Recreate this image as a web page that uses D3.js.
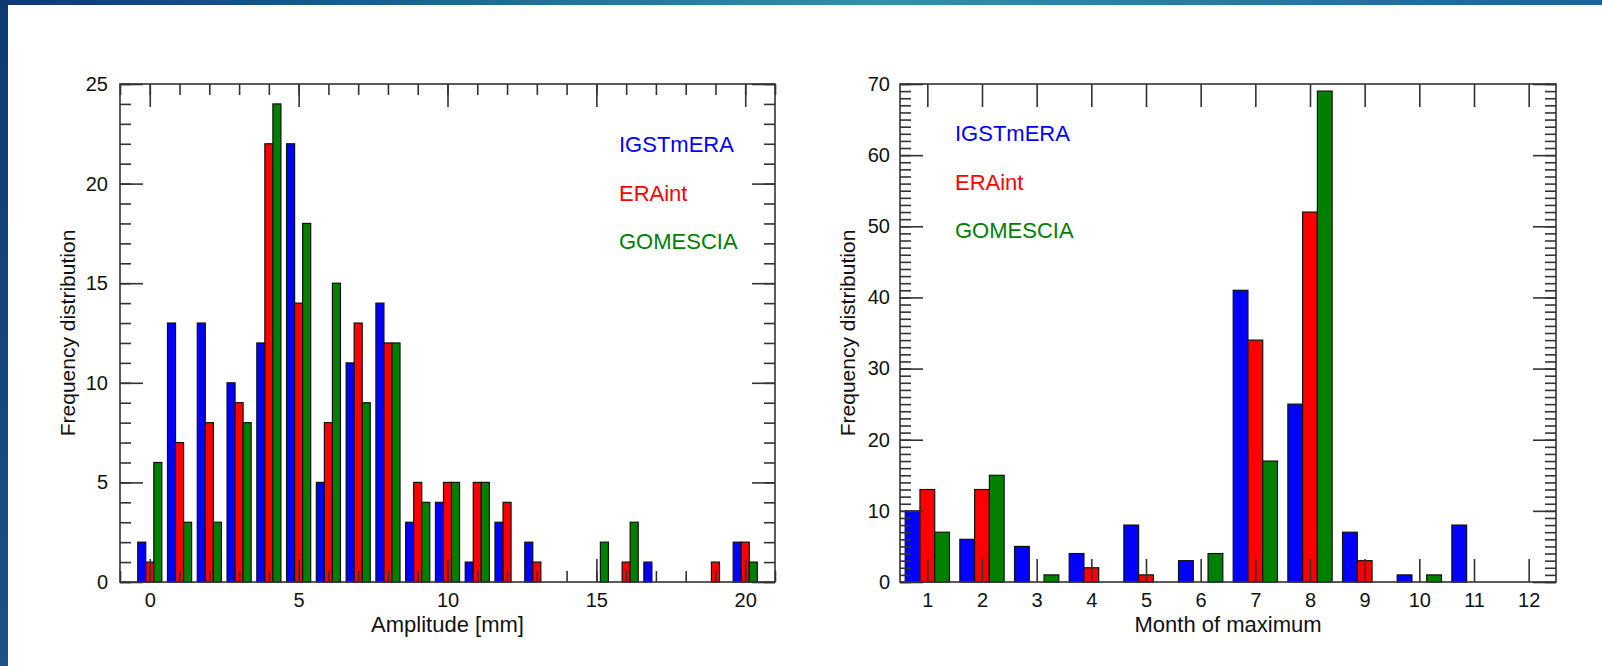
<!DOCTYPE html>
<html>
<head>
<meta charset="utf-8">
<script src="https://cdn.jsdelivr.net/npm/d3@7"></script>
<style>
  body { margin: 0; background: #fff; }
  text { font-family: "Liberation Sans", Arial, Helvetica, sans-serif; }
</style>
</head>
<body>
<div class="chart"></div>
<script>
// Data
var seriesNames = ["IGSTmERA", "ERAint", "GOMESCIA"];
var seriesColors = ["#0000ff", "#ff0000", "#008000"];

// left panel: amplitude histogram (bins in mm)
var ampBins = [0, 1, 2, 3, 4, 5, 6, 7, 8, 9, 10, 11, 12, 13, 14, 15, 16, 17, 18, 19, 20];
var ampIGSTmERA = [2, 13, 13, 10, 12, 22, 5, 11, 14, 3, 4, 1, 3, 2, 0, 0, 0, 1, 0, 0, 2];
var ampERAint   = [1, 7, 8, 9, 22, 14, 8, 13, 12, 5, 5, 5, 4, 1, 0, 0, 1, 0, 0, 1, 2];
var ampGOMESCIA = [6, 3, 3, 8, 24, 18, 15, 9, 12, 4, 5, 5, 0, 0, 0, 2, 3, 0, 0, 0, 1];
var ampTicks = [0, 5, 10, 15, 20];

// right panel: month of maximum
var months = [1, 2, 3, 4, 5, 6, 7, 8, 9, 10, 11, 12];
var monIGSTmERA = [10, 6, 5, 4, 8, 3, 41, 25, 7, 1, 8, 0];
var monERAint   = [13, 13, 0, 2, 1, 0, 34, 52, 3, 0, 0, 0];
var monGOMESCIA = [7, 15, 1, 0, 0, 4, 17, 69, 0, 1, 0, 0];

var svgWidth = 1602;
var svgHeight = 666;

var svg = d3.select(".chart")
  .append("svg")
  .attr("width", svgWidth)
  .attr("height", svgHeight);

// slide frame: gradient band on top, dark strip on the left
var defs = svg.append("defs");
var topGrad = defs.append("linearGradient").attr("id", "topGrad");
topGrad.append("stop").attr("offset", "0%").attr("stop-color", "#0d3a72");
topGrad.append("stop").attr("offset", "55%").attr("stop-color", "#3190aa");
topGrad.append("stop").attr("offset", "100%").attr("stop-color", "#1f6192");
var sideGrad = defs.append("linearGradient").attr("id", "sideGrad")
  .attr("x1", 0).attr("y1", 0).attr("x2", 0).attr("y2", 1);
sideGrad.append("stop").attr("offset", "0%").attr("stop-color", "#0d3a72");
sideGrad.append("stop").attr("offset", "100%").attr("stop-color", "#1b5287");

svg.append("rect").attr("x", 0).attr("y", 0).attr("width", svgWidth).attr("height", 5)
  .attr("fill", "url(#topGrad)");
svg.append("rect").attr("x", 0).attr("y", 0).attr("width", 8).attr("height", svgHeight)
  .attr("fill", "url(#sideGrad)");

function drawPanel(p) {
  var g = svg.append("g");

  var xScale = d3.scaleLinear().domain(p.xDomain).range([p.left, p.right]);
  var yScale = d3.scaleLinear().domain(p.yDomain).range([p.bottom, p.top]);

  // grouped bars
  var bw = 0.27;
  p.series.forEach(function(vals, s) {
    var rows = p.cats.map(function(c, i) { return {c: c, v: vals[i]}; })
      .filter(function(d) { return d.v > 0; });
    g.append("g").selectAll("rect")
      .data(rows)
      .enter()
      .append("rect")
      .attr("x", d => xScale(d.c + (s - 1.5) * bw))
      .attr("width", xScale(bw) - xScale(0))
      .attr("y", d => yScale(d.v))
      .attr("height", d => yScale(0) - yScale(d.v))
      .attr("fill", seriesColors[s])
      .attr("stroke", "#111")
      .attr("stroke-width", 1.2);
  });

  // axes, ticks pointing into the box
  function addAxis(axis, tx, ty, labels) {
    var a = g.append("g")
      .attr("transform", `translate(${tx}, ${ty})`)
      .call(axis);
    a.select(".domain").remove();
    a.selectAll("line").attr("stroke", "#333").attr("stroke-width", 1.6);
    a.selectAll("text")
      .attr("fill", "#111")
      .style("font-size", labels ? "20px" : null);
    if (!labels) a.selectAll("text").remove();
    return a;
  }

  var bottom = yScale(p.yDomain[0]);
  var top = yScale(p.yDomain[1]);
  var left = xScale(p.xDomain[0]);
  var right = xScale(p.xDomain[1]);

  if (p.xMinor) {
    addAxis(d3.axisBottom(xScale).tickValues(p.xMinor).tickSize(-11), 0, bottom, false);
    addAxis(d3.axisTop(xScale).tickValues(p.xMinor).tickSize(-11), 0, top, false);
  }
  addAxis(d3.axisBottom(xScale).tickValues(p.xMajor).tickSize(-23).tickPadding(11)
    .tickFormat(d3.format("d")), 0, bottom, true);
  addAxis(d3.axisTop(xScale).tickValues(p.xMajor).tickSize(-23), 0, top, false);

  addAxis(d3.axisLeft(yScale).tickValues(p.yMinor).tickSize(-11), left, 0, false);
  addAxis(d3.axisRight(yScale).tickValues(p.yMinor).tickSize(-11), right, 0, false);
  addAxis(d3.axisLeft(yScale).tickValues(p.yMajor).tickSize(-23).tickPadding(p.yPad)
    .tickFormat(d3.format("d")), left, 0, true);
  addAxis(d3.axisRight(yScale).tickValues(p.yMajor).tickSize(-23), right, 0, false);

  // box
  g.append("rect")
    .attr("x", left).attr("y", top)
    .attr("width", right - left).attr("height", bottom - top)
    .attr("fill", "none")
    .attr("stroke", "#333")
    .attr("stroke-width", 1.6);

  // axis titles
  g.append("text")
    .attr("x", (left + right) / 2)
    .attr("y", bottom + 50)
    .attr("text-anchor", "middle")
    .style("font-size", "22px")
    .attr("fill", "#111")
    .text(p.xTitle);

  g.append("text")
    .attr("transform", `translate(${left - 45}, ${(top + bottom) / 2}) rotate(-90)`)
    .attr("text-anchor", "middle")
    .style("font-size", "21px")
    .attr("fill", "#111")
    .text("Frequency distribution");

  // legend
  seriesNames.forEach(function(name, s) {
    g.append("text")
      .attr("x", p.legendX)
      .attr("y", p.legendY + s * 48.5)
      .style("font-size", "22px")
      .attr("fill", seriesColors[s])
      .text(name);
  });
}

drawPanel({
  left: 120, right: 775, top: 84, bottom: 582,
  xDomain: [-1, 21], yDomain: [0, 25],
  cats: ampBins,
  series: [ampIGSTmERA, ampERAint, ampGOMESCIA],
  xMajor: ampTicks,
  xMinor: d3.range(-1, 22),
  yMajor: [0, 5, 10, 15, 20, 25],
  yMinor: d3.range(0, 26),
  yPad: 12,
  xTitle: "Amplitude [mm]",
  legendX: 619, legendY: 152
});

drawPanel({
  left: 900, right: 1556, top: 84, bottom: 582,
  xDomain: [0.5, 12.5], yDomain: [0, 70],
  cats: months,
  series: [monIGSTmERA, monERAint, monGOMESCIA],
  xMajor: months,
  xMinor: null,
  yMajor: [0, 10, 20, 30, 40, 50, 60, 70],
  yMinor: d3.range(0, 71),
  yPad: 10,
  xTitle: "Month of maximum",
  legendX: 955, legendY: 141
});
</script>
</body>
</html>
